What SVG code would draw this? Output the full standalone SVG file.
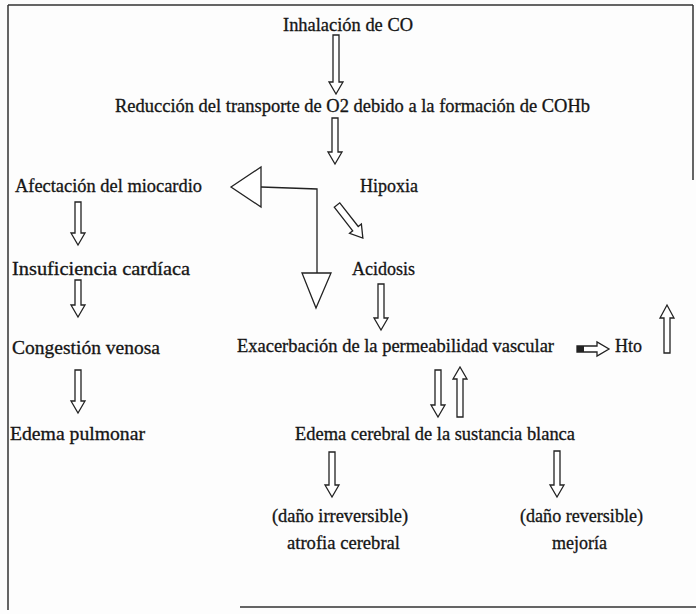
<svg xmlns="http://www.w3.org/2000/svg" width="696" height="614" viewBox="0 0 696 614">
<style>
text{font-family:"Liberation Serif","Times New Roman",serif;font-size:18px;fill:#151515;stroke:#151515;stroke-width:0.3}
.ar{fill:#fff;stroke:#222;stroke-width:1.3;stroke-linejoin:miter}
.ln{fill:none;stroke:#222;stroke-width:1.3}
.fr{fill:none;stroke:#333;stroke-width:1.5}
</style>
<rect width="696" height="614" fill="#fdfdfd"/>
<g id="frame">
<path class="fr" d="M8,5 H693 M8,5 V610 M693,5 V180 M240,607 H696"/>
</g>
<g id="n_inhalacion"><text x="283" y="31" textLength="130" lengthAdjust="spacingAndGlyphs">Inhalación de CO</text></g>
<g id="n_reduccion"><text x="115" y="112" textLength="475" lengthAdjust="spacingAndGlyphs">Reducción del transporte de O2 debido a la formación de COHb</text></g>
<g id="n_afectacion"><text x="15" y="192" textLength="187" lengthAdjust="spacingAndGlyphs">Afectación del miocardio</text></g>
<g id="n_hipoxia"><text x="360" y="192">Hipoxia</text></g>
<g id="n_insuficiencia"><text x="12" y="275" textLength="178" lengthAdjust="spacingAndGlyphs">Insuficiencia cardíaca</text></g>
<g id="n_acidosis"><text x="352" y="275">Acidosis</text></g>
<g id="n_congestion"><text x="12" y="354" textLength="148" lengthAdjust="spacingAndGlyphs">Congestión venosa</text></g>
<g id="n_exacerbacion"><text x="237" y="352" textLength="317" lengthAdjust="spacingAndGlyphs">Exacerbación de la permeabilidad vascular</text></g>
<g id="n_hto"><text x="615" y="352">Hto</text></g>
<g id="n_edema_pulmonar"><text x="10" y="440" textLength="135" lengthAdjust="spacingAndGlyphs">Edema pulmonar</text></g>
<g id="n_edema_cerebral"><text x="295" y="440" textLength="280" lengthAdjust="spacingAndGlyphs">Edema cerebral de la sustancia blanca</text></g>
<g id="n_irreversible">
<text x="272" y="522" textLength="136" lengthAdjust="spacingAndGlyphs">(daño irreversible)</text>
<text x="287" y="549" textLength="113" lengthAdjust="spacingAndGlyphs">atrofia cerebral</text>
</g>
<g id="n_reversible">
<text x="520" y="522" textLength="123" lengthAdjust="spacingAndGlyphs">(daño reversible)</text>
<text x="552" y="549">mejoría</text>
</g>
<g id="connectors">
<path class="ar" d="M333,35 H339 V82 H343 L336,94 L329,82 H333 Z"/>
<path class="ar" d="M332,118 H338 V152 H342 L335,164 L328,152 H332 Z"/>
<path class="ln" d="M261,187 L317,189 V273"/>
<path class="ar" d="M231,187 L261,167 V207 Z"/>
<path class="ar" d="M302,273 H331 L316,308 Z"/>
<path class="ar" transform="translate(337,205) rotate(-38)" d="M-3.5,0 H3.5 V30 H7.5 L0,42 L-7.5,30 H-3.5 Z"/>
<path class="ar" d="M75,202 H81 V233 H85 L78,245 L71,233 H75 Z"/>
<path class="ar" d="M75,280 H81 V305 H85 L78,317 L71,305 H75 Z"/>
<path class="ar" d="M75,370 H81 V401 H85 L78,413 L71,401 H75 Z"/>
<path class="ar" d="M378,284 H384 V318 H388 L381,330 L374,318 H378 Z"/>
<path class="ar" d="M577,346 H597 V342 L609,349 L597,356 V352 H577 Z"/>
<rect x="577" y="346" width="7" height="6" fill="#222"/>
<path class="ar" d="M664,353 H670 V318 H674 L667,305 L660,318 H664 Z"/>
<path class="ar" d="M435,370 H441 V405 H445 L438,417 L431,405 H435 Z"/>
<path class="ar" d="M457,417 H463 V379 H467 L460,367 L453,379 H457 Z"/>
<path class="ar" d="M329,452 H335 V485 H339 L332,497 L325,485 H329 Z"/>
<path class="ar" d="M554,451 H560 V485 H564 L557,497 L550,485 H554 Z"/>
</g>
</svg>
